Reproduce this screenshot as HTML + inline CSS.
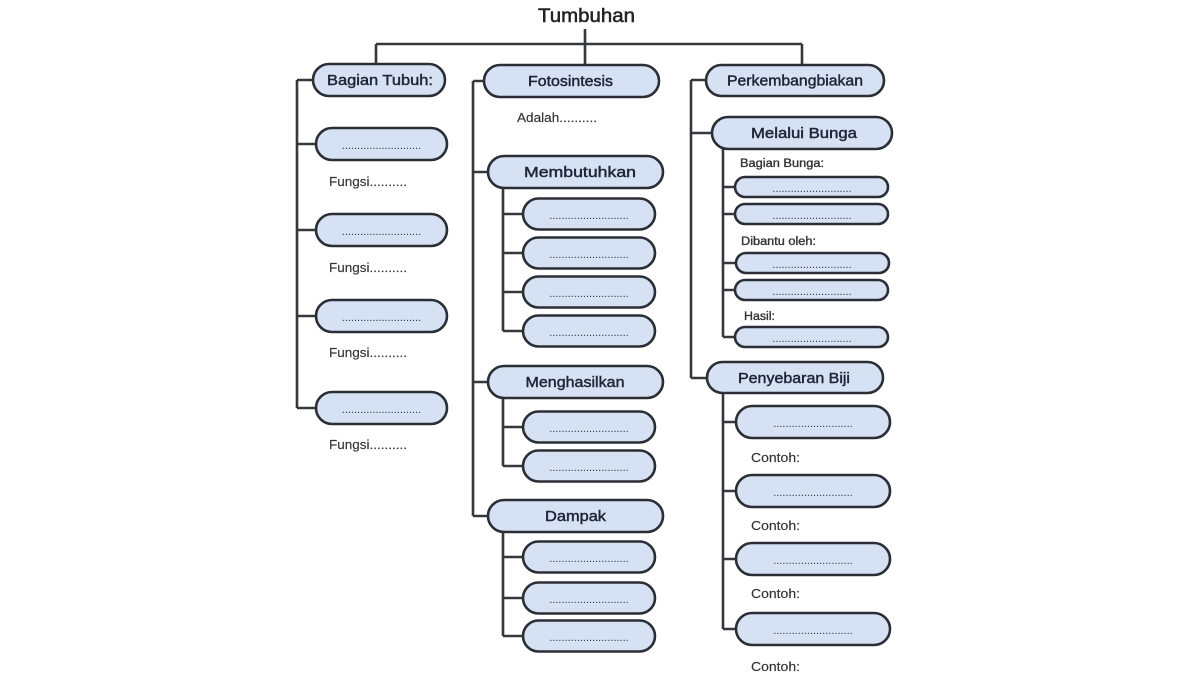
<!DOCTYPE html>
<html>
<head>
<meta charset="utf-8">
<style>
html,body{margin:0;padding:0;background:#fff;}
body{width:1200px;height:675px;overflow:hidden;}
svg{display:block;}
.b{fill:#d6e1f4;stroke:#2b2f35;stroke-width:2.6;}
.l{stroke:#35383c;stroke-width:2.6;fill:none;}
.t{font-family:"Liberation Sans",sans-serif;font-weight:normal;font-size:14.5px;fill:#1f2636;stroke:#1f2636;stroke-width:0.45;}
.d{font-family:"Liberation Sans",sans-serif;font-size:11px;fill:#2a3550;}
.f{font-family:"Liberation Sans",sans-serif;font-size:13px;fill:#333;stroke:#333;stroke-width:0.15;}
.s{font-family:"Liberation Sans",sans-serif;font-weight:normal;font-size:11.5px;fill:#333;stroke:#333;stroke-width:0.35;}
</style>
</head>
<body>
<svg width="1200" height="675" viewBox="0 0 1200 675" xmlns="http://www.w3.org/2000/svg">
<!-- title -->
<text x="586.5" y="22" text-anchor="middle" font-family="Liberation Sans, sans-serif" font-size="19" fill="#222" stroke="#222" stroke-width="0.5" textLength="97" lengthAdjust="spacingAndGlyphs">Tumbuhan</text>
<path class="l" d="M585 29 V65 M376 44 H802 M376 44 V64 M802 44 V65"/>

<!-- LEFT COLUMN -->
<path class="l" d="M297 80 V408 M297 80 H313 M297 144 H316 M297 230 H316 M297 316 H316 M297 408 H316"/>
<rect class="b" x="313" y="64" width="132" height="32" rx="16"/>
<text class="t" x="380" y="85" text-anchor="middle" textLength="106" lengthAdjust="spacingAndGlyphs">Bagian Tubuh:</text>

<rect class="b" x="316" y="128" width="131" height="32" rx="16"/>
<text class="d" x="381.5" y="149" text-anchor="middle">..........................</text>
<text class="f" x="329" y="186" textLength="78" lengthAdjust="spacingAndGlyphs">Fungsi..........</text>

<rect class="b" x="316" y="214" width="131" height="32" rx="16"/>
<text class="d" x="381.5" y="235" text-anchor="middle">..........................</text>
<text class="f" x="329" y="272" textLength="78" lengthAdjust="spacingAndGlyphs">Fungsi..........</text>

<rect class="b" x="316" y="300" width="131" height="32" rx="16"/>
<text class="d" x="381.5" y="321" text-anchor="middle">..........................</text>
<text class="f" x="329" y="357" textLength="78" lengthAdjust="spacingAndGlyphs">Fungsi..........</text>

<rect class="b" x="316" y="392" width="131" height="32" rx="16"/>
<text class="d" x="381.5" y="413" text-anchor="middle">..........................</text>
<text class="f" x="329" y="449" textLength="78" lengthAdjust="spacingAndGlyphs">Fungsi..........</text>

<!-- MIDDLE COLUMN -->
<path class="l" d="M473 81 V516 M473 81 H484 M473 172 H488 M473 382 H488 M473 516 H488"/>
<path class="l" d="M503 188 V331 M503 214 H523 M503 253 H523 M503 292 H523 M503 331 H523"/>
<path class="l" d="M503 398 V466 M503 427 H523 M503 466 H523"/>
<path class="l" d="M503 532 V636 M503 557 H523 M503 598 H523 M503 636 H523"/>

<rect class="b" x="484" y="65" width="175" height="32" rx="16"/>
<text class="t" x="570.5" y="86" text-anchor="middle" textLength="85" lengthAdjust="spacingAndGlyphs">Fotosintesis</text>
<text class="f" x="517" y="122" textLength="80" lengthAdjust="spacingAndGlyphs">Adalah..........</text>

<rect class="b" x="488" y="156" width="175" height="32" rx="16"/>
<text class="t" x="580" y="177" text-anchor="middle" textLength="112" lengthAdjust="spacingAndGlyphs">Membutuhkan</text>

<rect class="b" x="523" y="198.5" width="132" height="31" rx="15.5"/>
<text class="d" x="589" y="219" text-anchor="middle">..........................</text>
<rect class="b" x="523" y="237.5" width="132" height="31" rx="15.5"/>
<text class="d" x="589" y="258" text-anchor="middle">..........................</text>
<rect class="b" x="523" y="276.5" width="132" height="31" rx="15.5"/>
<text class="d" x="589" y="297" text-anchor="middle">..........................</text>
<rect class="b" x="523" y="315.5" width="132" height="31" rx="15.5"/>
<text class="d" x="589" y="336" text-anchor="middle">..........................</text>

<rect class="b" x="488" y="366" width="175" height="32" rx="16"/>
<text class="t" x="575" y="387" text-anchor="middle" textLength="99" lengthAdjust="spacingAndGlyphs">Menghasilkan</text>

<rect class="b" x="523" y="411.5" width="132" height="31" rx="15.5"/>
<text class="d" x="589" y="432" text-anchor="middle">..........................</text>
<rect class="b" x="523" y="450.5" width="132" height="31" rx="15.5"/>
<text class="d" x="589" y="471" text-anchor="middle">..........................</text>

<rect class="b" x="488" y="500" width="175" height="32" rx="16"/>
<text class="t" x="575.5" y="521" text-anchor="middle" textLength="61" lengthAdjust="spacingAndGlyphs">Dampak</text>

<rect class="b" x="523" y="541.5" width="132" height="31" rx="15.5"/>
<text class="d" x="589" y="562" text-anchor="middle">..........................</text>
<rect class="b" x="523" y="582.5" width="132" height="31" rx="15.5"/>
<text class="d" x="589" y="603" text-anchor="middle">..........................</text>
<rect class="b" x="523" y="620.5" width="132" height="31" rx="15.5"/>
<text class="d" x="589" y="641" text-anchor="middle">..........................</text>

<!-- RIGHT COLUMN -->
<path class="l" d="M691 80 V378 M691 80 H706 M691 133 H712 M691 378 H707"/>
<path class="l" d="M723 149 V337 M723 187 H735 M723 214 H735 M723 263 H735 M723 290 H735 M723 337 H735"/>
<path class="l" d="M723 393 V629 M723 422 H736 M723 491 H736 M723 559 H736 M723 629 H736"/>

<rect class="b" x="706" y="65" width="178" height="31" rx="15.5"/>
<text class="t" x="795" y="85.5" text-anchor="middle" textLength="136" lengthAdjust="spacingAndGlyphs">Perkembangbiakan</text>

<rect class="b" x="712" y="117" width="180" height="32" rx="16"/>
<text class="t" x="804" y="138" text-anchor="middle" textLength="106" lengthAdjust="spacingAndGlyphs">Melalui Bunga</text>

<text class="s" x="740" y="167" textLength="84" lengthAdjust="spacingAndGlyphs">Bagian Bunga:</text>
<rect class="b" x="735" y="177" width="153" height="20" rx="10"/>
<text class="d" x="812" y="192" text-anchor="middle">..........................</text>
<rect class="b" x="735" y="204" width="153" height="20" rx="10"/>
<text class="d" x="812" y="219" text-anchor="middle">..........................</text>

<text class="s" x="741" y="245" textLength="75" lengthAdjust="spacingAndGlyphs">Dibantu oleh:</text>
<rect class="b" x="736" y="253" width="153" height="20" rx="10"/>
<text class="d" x="812" y="268" text-anchor="middle">..........................</text>
<rect class="b" x="735" y="280" width="153" height="20" rx="10"/>
<text class="d" x="812" y="295" text-anchor="middle">..........................</text>

<text class="s" x="744" y="320" textLength="31" lengthAdjust="spacingAndGlyphs">Hasil:</text>
<rect class="b" x="735" y="327" width="153" height="20" rx="10"/>
<text class="d" x="812" y="342" text-anchor="middle">..........................</text>

<rect class="b" x="707" y="362" width="176" height="31" rx="15.5"/>
<text class="t" x="794" y="383" text-anchor="middle" textLength="112" lengthAdjust="spacingAndGlyphs">Penyebaran Biji</text>

<rect class="b" x="736" y="406" width="154" height="32" rx="16"/>
<text class="d" x="813" y="427" text-anchor="middle">..........................</text>
<text class="f" x="751" y="462" textLength="49" lengthAdjust="spacingAndGlyphs">Contoh:</text>

<rect class="b" x="736" y="475" width="154" height="32" rx="16"/>
<text class="d" x="813" y="496" text-anchor="middle">..........................</text>
<text class="f" x="751" y="530" textLength="49" lengthAdjust="spacingAndGlyphs">Contoh:</text>

<rect class="b" x="736" y="543" width="154" height="32" rx="16"/>
<text class="d" x="813" y="564" text-anchor="middle">..........................</text>
<text class="f" x="751" y="598" textLength="49" lengthAdjust="spacingAndGlyphs">Contoh:</text>

<rect class="b" x="736" y="613" width="154" height="32" rx="16"/>
<text class="d" x="813" y="634" text-anchor="middle">..........................</text>
<text class="f" x="751" y="671" textLength="49" lengthAdjust="spacingAndGlyphs">Contoh:</text>
</svg>
</body>
</html>
